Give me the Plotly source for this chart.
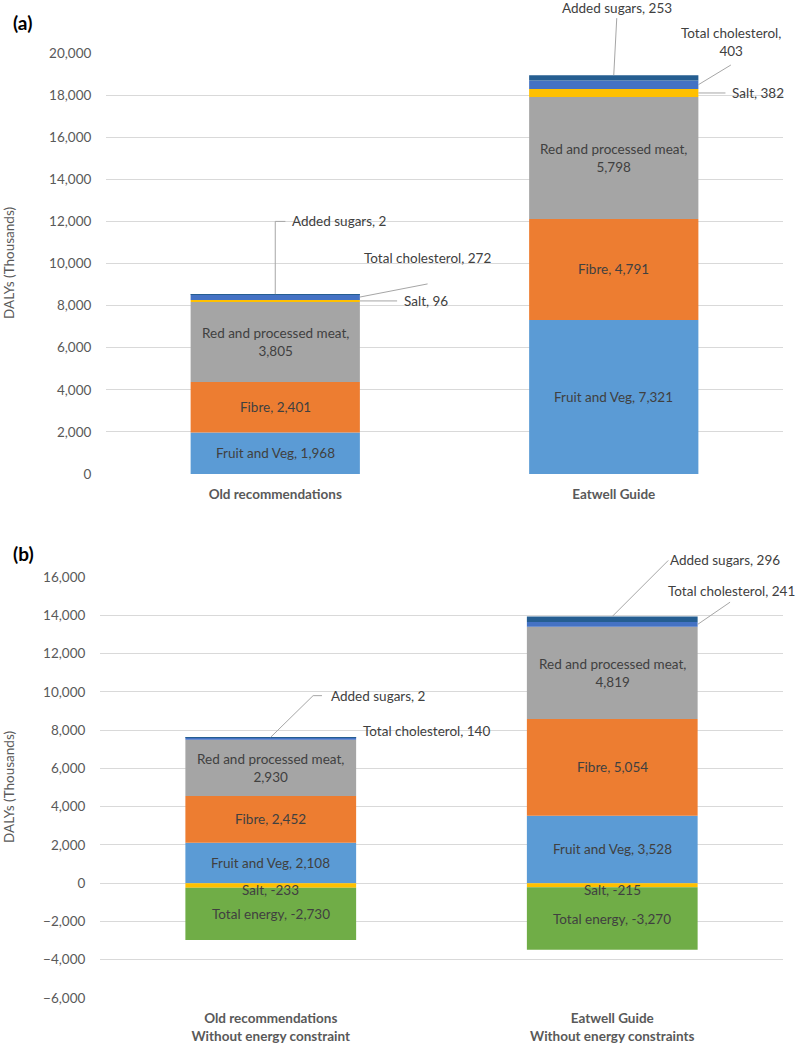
import plotly.graph_objects as go

# ---------------- data ----------------
categories_a = ["Old recommendations", "Eatwell Guide"]
categories_b = ["Old recommendations<br>Without energy constraint",
                "Eatwell Guide<br>Without energy constraints"]

fruit_veg_a = [1968, 7321]
fibre_a = [2401, 4791]
red_meat_a = [3805, 5798]
salt_a = [96, 382]
cholesterol_a = [272, 403]
added_sugars_a = [2, 253]

fruit_veg_b = [2108, 3528]
fibre_b = [2452, 5054]
red_meat_b = [2930, 4819]
salt_b = [-233, -215]
cholesterol_b = [140, 241]
added_sugars_b = [2, 296]
total_energy_b = [-2730, -3270]

y_ticks_a = list(range(0, 20001, 2000))
y_ticks_b = list(range(-6000, 16001, 2000))

# ---------------- style ----------------
FONT = "Lato"
LBL = 13.5
TXT = "#404040"
AX = "#595959"
GRID = "#D9D9D9"
LEAD = "#A6A6A6"
COLORS = {
    "fv": "#5B9BD5", "fibre": "#ED7D31", "red": "#A5A5A5", "salt": "#FFC000",
    "chol": "#4472C4", "sugars": "#255E91", "energy": "#70AD47",
}
NAMES = {
    "fv": "Fruit and Veg", "fibre": "Fibre", "red": "Red and processed meat",
    "salt": "Salt", "chol": "Total cholesterol", "sugars": "Added sugars",
    "energy": "Total energy",
}

W, H = 796, 1044


def px_x(px):
    return px / W


def px_y(py):
    return 1 - py / H


panels = {
    "a": dict(xa="x", ya="y", cats=categories_a, series=[
        ("fv", fruit_veg_a), ("fibre", fibre_a), ("red", red_meat_a),
        ("salt", salt_a), ("chol", cholesterol_a), ("sugars", added_sugars_a)]),
    "b": dict(xa="x2", ya="y2", cats=categories_b, series=[
        ("fv", fruit_veg_b), ("fibre", fibre_b), ("red", red_meat_b),
        ("salt", salt_b), ("chol", cholesterol_b), ("sugars", added_sugars_b),
        ("energy", total_energy_b)]),
}

inside_keys = {"a": ["fv", "fibre", "red"], "b": ["fv", "fibre", "red", "salt", "energy"]}

BAR_W = 0.5
X_POS = [0, 1]

# callout placements (label position in axis units, optional pixel shift, leader geometry)
callouts = {
    ("a", "sugars", 0): dict(tx=0.045, ty=12000, xanchor="left", start=("c", "top"),
                             pts=[(0.0, 12000), (0.03, 12000)]),
    ("a", "chol", 0): dict(tx=0.256, ty=10260, xanchor="left", start=("r", "mid"),
                           pts=[(0.45, 9030)]),
    ("a", "salt", 0): dict(tx=0.374, ty=None, xanchor="left", start=("r", "mid"),
                           pts=[(0.36, None)]),
    ("a", "sugars", 1): dict(arrow=(3, -57), xanchor="center", yanchor="bottom"),
    ("a", "chol", 1): dict(tx=1.346, ty=19800, yshift=15, xanchor="center", start=("r", "mid"),
                           pts=[(1.346, 19430)], br=True),
    ("a", "salt", 1): dict(tx=1.343, ty=None, xanchor="left", start=("r", "mid"),
                           pts=[(1.33, None)]),
    ("b", "sugars", 0): dict(tx=0.17, ty=9800, xanchor="left", start=("c", "top"),
                             pts=[(0.124, 9800), (0.15, 9800)]),
    ("b", "chol", 0): dict(tx=0.264, ty=7943, xanchor="left", start=None, pts=[]),
    ("b", "sugars", 1): dict(arrow=(56, -56), xanchor="left", yanchor="middle"),
    ("b", "chol", 1): dict(tx=1.157, ty=15259, xanchor="left", start=("r", "mid"),
                           pts=[(1.345, 14684)]),
}


def fmt(v):
    return f"{v:,}"


fig = go.Figure()
annotations = []
shapes = []

for pk, p in panels.items():
    for key, vals in p["series"]:
        fig.add_trace(go.Bar(
            x=X_POS, y=vals, width=BAR_W, name=NAMES[key],
            marker=dict(color=COLORS[key], line=dict(width=0)),
            xaxis=p["xa"], yaxis=p["ya"], showlegend=False,
            hovertemplate=NAMES[key] + ": %{y:,}<extra></extra>",
        ))
    n = len(X_POS)
    pos_base = [0] * n
    neg_base = [0] * n
    seg = {}
    for key, vals in p["series"]:
        for i, v in enumerate(vals):
            if v >= 0:
                lo, hi = pos_base[i], pos_base[i] + v
                pos_base[i] = hi
            else:
                hi, lo = neg_base[i], neg_base[i] + v
                neg_base[i] = lo
            seg[(key, i)] = (lo, hi)
    tops = pos_base

    for key, vals in p["series"]:
        for i, v in enumerate(vals):
            lo, hi = seg[(key, i)]
            mid = (lo + hi) / 2
            if key in inside_keys[pk]:
                if key == "red":
                    text = f"{NAMES[key]},<br>{fmt(v)}"
                else:
                    text = f"{NAMES[key]}, {fmt(v)}"
                annotations.append(dict(
                    x=X_POS[i], y=mid, xref=p["xa"], yref=p["ya"], text=text,
                    showarrow=False, font=dict(family=FONT, size=LBL, color=TXT),
                    yshift=-5 if key == "salt" else 0))
                continue
            c = callouts.get((pk, key, i))
            if c is None:
                continue
            text = f"{NAMES[key]},<br>{fmt(v)}" if c.get("br") else f"{NAMES[key]}, {fmt(v)}"
            if c.get("arrow"):
                axp, ayp = c["arrow"]
                annotations.append(dict(
                    x=X_POS[i], y=tops[i], xref=p["xa"], yref=p["ya"],
                    ax=axp, ay=ayp, text=text, xanchor=c["xanchor"], yanchor=c["yanchor"],
                    showarrow=True, arrowhead=0, arrowwidth=1, arrowcolor=LEAD,
                    standoff=0, startstandoff=0,
                    font=dict(family=FONT, size=LBL, color=TXT)))
                continue
            ty = c["ty"] if c["ty"] is not None else mid
            annotations.append(dict(
                x=c["tx"], y=ty, xref=p["xa"], yref=p["ya"], text=text,
                xanchor=c["xanchor"], yanchor="middle", showarrow=False, align="center",
                yshift=c.get("yshift", 0),
                font=dict(family=FONT, size=LBL, color=TXT)))
            if c["start"]:
                sx = X_POS[i] + (BAR_W / 2 if c["start"][0] == "r" else 0)
                sy = tops[i] if c["start"][1] == "top" else mid
                pts = [(sx, sy)] + [(px, py if py is not None else mid) for px, py in c["pts"]]
                for (x0, y0), (x1, y1) in zip(pts[:-1], pts[1:]):
                    shapes.append(dict(type="line", xref=p["xa"], yref=p["ya"],
                                       x0=x0, y0=y0, x1=x1, y1=y1,
                                       line=dict(color=LEAD, width=1)))

# panel labels and axis titles
for lbl, ypx in [("(a)", 23), ("(b)", 553)]:
    annotations.append(dict(x=px_x(11), y=px_y(ypx), xref="paper", yref="paper",
                            text=f"<b>{lbl}</b>", showarrow=False, xanchor="left",
                            yanchor="middle", font=dict(family=FONT, size=19, color="#000000")))
for ypx in [263, 787]:
    annotations.append(dict(x=px_x(9), y=px_y(ypx), xref="paper", yref="paper",
                            text="DALYs (Thousands)", showarrow=False, textangle=-90,
                            xanchor="center", yanchor="middle",
                            font=dict(family=FONT, size=LBL, color=AX)))

xaxis_common = dict(range=[-0.5, 1.5], tickvals=X_POS, showgrid=False, zeroline=False,
                    showline=False, ticks="outside", ticklen=8, tickcolor="rgba(0,0,0,0)",
                    automargin=False,
                    tickfont=dict(family=FONT, size=LBL, color=AX), fixedrange=True)
yaxis_common = dict(showgrid=True, gridcolor=GRID, gridwidth=1, zeroline=False,
                    showline=False, tickformat=",", ticks="outside", ticklen=11,
                    tickcolor="rgba(0,0,0,0)", automargin=False,
                    tickfont=dict(family=FONT, size=13.5, color=AX), fixedrange=True)

fig.update_layout(
    width=W, height=H, barmode="relative",
    margin=dict(l=0, r=0, t=0, b=0),
    paper_bgcolor="white", plot_bgcolor="white",
    font=dict(family=FONT, color=AX),
    xaxis=dict(xaxis_common, domain=[px_x(106), px_x(783)], anchor="y",
               ticktext=[f"<b>{c}</b>" for c in categories_a]),
    yaxis=dict(yaxis_common, domain=[px_y(474), px_y(53)], anchor="x",
               range=[0, 20000], tickvals=y_ticks_a),
    xaxis2=dict(xaxis_common, domain=[px_x(100), px_x(783)], anchor="y2",
                ticktext=["<b>" + c.replace("<br>", "</b><br><b>") + "</b>" for c in categories_b]),
    yaxis2=dict(yaxis_common, domain=[px_y(998), px_y(577)], anchor="x2",
                range=[-6000, 16000], tickvals=y_ticks_b),
    annotations=annotations, shapes=shapes,
)

fig.write_html("out.html", config={"displayModeBar": False},
               post_script="document.body.style.margin='0px';")
